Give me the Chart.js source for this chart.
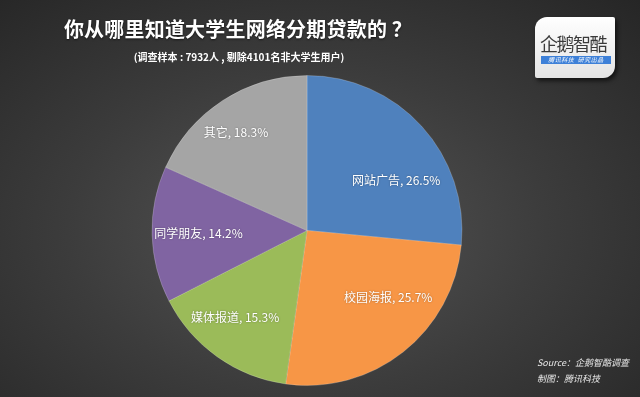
<!DOCTYPE html>
<html>
<head>
<meta charset="utf-8">
<script src="https://cdn.jsdelivr.net/npm/chart.js@4/dist/chart.umd.min.js"></script>
<style>
  html, body { margin: 0; padding: 0; }
  body {
    width: 640px; height: 397px; overflow: hidden; position: relative;
    background: radial-gradient(ellipse 75% 80% at 48% 58%, #555 0%, #3c3c3c 50%, #262626 100%);
    font-family: "Noto Sans CJK SC", "Noto Sans", sans-serif;
  }
  .chart-box { position: absolute; left: 0; top: 0; width: 640px; height: 397px; }
  .title {
    position: absolute; left: 0; width: 476px; top: 14px; text-align: center;
    color: #fff; font-weight: bold; font-size: 20px; letter-spacing: 0.2px; white-space: nowrap;
    text-shadow: 0 1px 2px rgba(0,0,0,0.6);
  }
  .subtitle {
    position: absolute; left: 0; width: 478px; top: 49px; text-align: center;
    color: #fff; font-weight: bold; font-size: 10px; white-space: nowrap;
  }
  .source {
    position: absolute; left: 537px; color: #e6e6e6; font-style: italic; font-size: 9px;
    white-space: nowrap;
  }
  .logo {
    position: absolute; left: 535px; top: 17px; width: 80px; height: 61px;
    background: linear-gradient(#ffffff, #e4e4e4);
    border-radius: 12px 2px 12px 2px;
    box-shadow: 2px 3px 4px rgba(0,0,0,0.6);
  }
  .logo .name {
    position: absolute; left: 5px; top: 13px; font-size: 18px; color: #3a3a3a; letter-spacing: -1.5px;
  }
  .logo .bar {
    position: absolute; left: 6px; top: 39px; width: 70px; height: 8px;
    background: #3d80d8; color: #fff; font-size: 6px; line-height: 8px; font-style: italic;
    text-align: center; letter-spacing: 0.5px; white-space: nowrap;
  }
</style>
</head>
<body>
<div class="chart-box"><canvas id="pie"></canvas></div>
<div class="title">你从哪里知道大学生网络分期贷款的 ？</div>
<div class="subtitle">(调查样本 : 7932人 , 剔除4101名非大学生用户)</div>
<div class="logo">
  <div class="name">企鹅智酷</div>
  <div class="bar">腾讯科技&nbsp;&nbsp;研究出品</div>
</div>
<div class="source" style="top:356px">Source：企鹅智酷调查</div>
<div class="source" style="top:372px">制图：腾讯科技</div>
<script>
// 数据（%）
const categories = ['网站广告', '校园海报', '媒体报道', '同学朋友', '其它'];
const shares = [26.5, 25.7, 15.3, 14.2, 18.3];
const sliceColors = ['#4f81bd', '#f79646', '#9bbb59', '#8064a2', '#a5a5a5'];

// 标签放在扇区内部，像 Excel 那样稍微挪一下
const sliceLabels = {
    id: 'sliceLabels',
    afterDatasetsDraw(chart, args, opts) {
        const ctx = chart.ctx;
        const arcs = chart.getDatasetMeta(0).data;
        ctx.save();
        ctx.font = '12px "Noto Sans CJK SC", "Noto Sans", sans-serif';
        ctx.fillStyle = '#fff';
        ctx.textAlign = 'center';
        ctx.textBaseline = 'middle';
        ctx.shadowColor = 'rgba(0,0,0,0.35)';
        ctx.shadowBlur = 2;
        arcs.forEach((arc, i) => {
            const p = arc.getProps(['x', 'y', 'startAngle', 'endAngle', 'outerRadius'], true);
            const mid = (p.startAngle + p.endAngle) / 2 + opts.nudge[i] * Math.PI / 180;
            const r = p.outerRadius * opts.dist[i];
            const text = categories[i] + ', ' + shares[i].toFixed(1) + '%';
            ctx.fillText(text, p.x + Math.cos(mid) * r, p.y + Math.sin(mid) * r);
        });
        ctx.restore();
    }
};

new Chart(document.getElementById('pie'), {
    type: 'pie',
    data: {
        labels: categories,
        datasets: [{
            data: shares,
            backgroundColor: sliceColors,
            borderColor: 'rgba(255,255,255,0.2)',
            borderWidth: 1
        }]
    },
    options: {
        responsive: true,
        maintainAspectRatio: false,
        animation: false,
        layout: { padding: { top: 75, bottom: 11, left: 0, right: 26 } },
        plugins: {
            legend: { display: false },
            tooltip: { enabled: false },
            sliceLabels: {
                nudge: [13, -12, 4, 0, -3],
                dist: [0.66, 0.68, 0.73, 0.70, 0.78]
            }
        }
    },
    plugins: [sliceLabels]
});
</script>
</body>
</html>
